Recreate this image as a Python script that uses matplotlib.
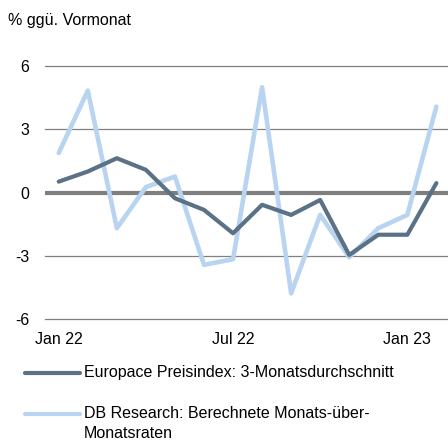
import matplotlib.pyplot as plt
from matplotlib.lines import Line2D

plt.rcParams['font.family'] = ['Liberation Sans', 'DejaVu Sans']

# Monate Jan 22 .. Feb 23
months = ["Jan 22", "Feb 22", "Mar 22", "Apr 22", "May 22", "Jun 22", "Jul 22",
          "Aug 22", "Sep 22", "Oct 22", "Nov 22", "Dec 22", "Jan 23", "Feb 23"]
europace = [0.52, 1.0, 1.63, 1.08, -0.27, -0.82, -1.93,
            -0.58, -1.06, -0.35, -2.96, -2.0, -2.0, 0.45]
db_research = [1.88, 4.84, -1.69, 0.26, 0.76, -3.43, -3.16,
               5.0, -4.78, -1.06, -3.07, -1.69, -1.06, 4.08]
tick_labels = ["Jan 22", "Jul 22", "Jan 23"]
tick_idx = [0, 6, 12]

dark = "#5a7186"
light = "#b8d4f0"

fig = plt.figure(figsize=(4.48, 4.41), dpi=100)
ax = fig.add_axes([0.1, 0.2766, 0.9, 0.5734])

x = list(range(len(months)))
# Gitterlinien
for y in [6, 3, -3, -6]:
    ax.axhline(y, color="#808080", lw=0.9, zorder=1, clip_on=False)
ax.axhline(0, color="#7f7f7f", lw=3, zorder=1)

ax.plot(x, europace, color=dark, lw=3, zorder=3, solid_capstyle="round")
ax.plot(x, db_research, color=light, lw=3.3, zorder=2, solid_capstyle="round")

ax.set_xlim(-0.48, 13.4)
ax.set_ylim(-6, 6)
ax.set_yticks([6, 3, 0, -3, -6])
ax.set_yticklabels(["6", "3", "0", "-3", "-6"])
ax.set_xticks(tick_idx)
ax.set_xticklabels(tick_labels)
ax.tick_params(axis="y", length=0, pad=11, labelsize=11.5)
ax.tick_params(axis="x", length=0, pad=9, labelsize=11.5)
for s in ax.spines.values():
    s.set_visible(False)

fig.text(8 / 448, 1 - 21 / 441, "% ggü. Vormonat", fontsize=11.5, va="center", ha="left")

# Legende
fig.add_artist(Line2D([25 / 448, 80 / 448], [1 - 373 / 441] * 2, color=dark, lw=3,
                      solid_capstyle="round"))
fig.text(84 / 448, 1 - 373 / 441, "Europace Preisindex: 3-Monatsdurchschnitt",
         fontsize=11.5, va="center", ha="left")
fig.add_artist(Line2D([25 / 448, 80 / 448], [1 - 414 / 441] * 2, color=light, lw=3,
                      solid_capstyle="round"))
fig.text(84 / 448, 1 - 414 / 441, "DB Research: Berechnete Monats-über-",
         fontsize=11.5, va="center", ha="left")
fig.text(84 / 448, 1 - 433 / 441, "Monatsraten",
         fontsize=11.5, va="center", ha="left")

fig.savefig("out.png", dpi=100)
